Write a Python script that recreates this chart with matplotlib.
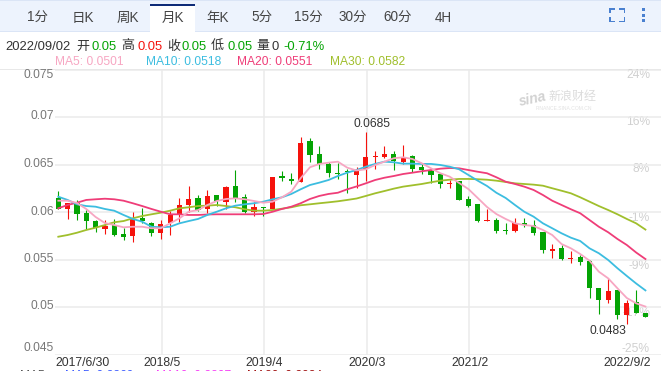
import matplotlib
matplotlib.use("Agg")
import matplotlib.pyplot as plt
from matplotlib.patches import Rectangle

plt.rcParams['font.family'] = ['Liberation Sans', 'Noto Sans CJK SC', 'DejaVu Sans']

PX = 0.72  # 1 px in points at dpi 100

# candles, 2017/6 to 2022/9, monthly
opens = [.06153, .06037, .0610, .05998, .0591, .05826, .05868, .05774, .05753, .05942, .05893, .05784,
         .05893, .05974, .06076, .06153, .06037, .06184, .06111, .06279, .0616, .06008, .06055, .06034,
         .06384, .06353, .06324, .06753, .06616, .06514, .06419, .06437, .06395, .06461, .06587, .06584,
         .06616, .06532, .06595, .06479, .0644, .06405, .06303, .06328, .06142, .06089, .05914, .05921,
         .05816, .05808, .05889, .05868, .05798, .05598, .05626, .05514, .05532, .05493, .05205, .05079,
         .05184, .04924, .05055, .04942]
highs = [.06226, .0610, .06132, .06026, .05921, .05921, .05932, .05837, .06005, .06051, .05903, .05921,
         .06019, .06149, .06279, .06184, .06237, .06184, .06279, .06447, .06192, .06114, .06055, .06374,
         .06437, .06413, .06792, .06784, .0670, .06535, .06524, .06455, .06476, .0685, .0665, .0670,
         .0665, .06711, .06605, .06524, .06468, .06419, .06339, .06328, .06174, .06089, .06037, .05939,
         .05886, .05942, .05939, .05921, .05798, .05668, .05655, .05592, .05556, .0550, .05205, .05307,
         .05184, .05079, .05184, .04942]
lows = [.06037, .05935, .05921, .05829, .05798, .05774, .05756, .05711, .05693, .05886, .05756, .05721,
        .05766, .05903, .06008, .06016, .05992, .06072, .06037, .06114, .05998, .05963, .05963, .06034,
        .06335, .063, .06324, .06535, .06455, .06371, .06356, .06208, .06261, .06335, .06461, .06574,
        .06447, .06511, .06426, .06402, .06314, .06261, .06255, .06132, .06061, .05903, .0591, .05781,
        .05771, .05792, .05851, .05763, .05571, .05524, .05503, .05472, .05447, .05097, .04932, .05051,
        .04879, .0483, .04942, .0490]
closes = [.06037, .0610, .05984, .0591, .05837, .05861, .05763, .05742, .05928, .05907, .05781, .05879,
          .05974, .06079, .06142, .06026, .06174, .06121, .06268, .06149, .06005, .06055, .06047, .06374,
          .0636, .06328, .06732, .06608, .06514, .06419, .06408, .06426, .0644, .06584, .06595, .06616,
          .06545, .06571, .06458, .06447, .06398, .0630, .06311, .06132, .06072, .0591, .05921, .05808,
          .05805, .05889, .05868, .05784, .05605, .05613, .05511, .05521, .05482, .05208, .05079, .05174,
          .04921, .05047, .04942, .0490]

ma5 = [.06124, .06124, .0610, .06037, .05953, .05889, .05868, .05844, .0585, .0585, .05834, .05834,
       .05886, .05939, .06008, .06026, .06079, .06121, .06142, .06149, .06139, .06121, .06103, .06114,
       .0616, .06219, .0636, .06476, .06511, .06524, .06535, .06472, .06442, .06455, .065, .06535,
       .06571, .06581, .06563, .06518, .06465, .06413, .06377, .06311, .06247, .06153, .06058, .05984,
       .05932, .05886, .05868, .05858, .05816, .05763, .05668, .05623, .05563, .05493, .05377, .05307,
       .05202, .0510, .05044, .0501]
ma10 = [.06166, .06132, .06086, .06068, .06061, .06037, .06019, .05974, .05932, .05903, .0585, .05844,
        .0585, .05886, .0591, .05932, .05974, .06008, .06044, .06072, .06086, .06097, .06114, .06139,
        .0616, .06195, .06244, .06289, .06314, .06342, .06384, .06419, .06447, .06482, .06511, .06535,
        .06528, .06514, .06514, .06511, .06511, .065, .06482, .06455, .06395, .06335, .06279, .06208,
        .06153, .06079, .06008, .05956, .05886, .05834, .05781, .05735, .057, .05623, .05571, .055,
        .05413, .05332, .05253, .0518]
ma20 = [.06044, .06079, .06103, .06132, .06139, .06145, .06139, .06124, .06097, .06068, .06037, .06008,
        .05981, .05981, .05974, .05974, .05979, .05981, .05981, .05981, .05981, .05981, .05984, .06008,
        .06037, .06061, .06097, .06142, .06174, .06195, .06208, .06244, .06274, .06307, .06342, .06366,
        .06384, .06405, .06419, .06434, .06447, .06461, .06468, .06465, .06447, .06429, .06413, .06371,
        .06324, .063, .06272, .06237, .06184, .06124, .06079, .06034, .05992, .05921, .0585, .05792,
        .05721, .05658, .05579, .0551]
ma30 = [.05745, .05763, .05787, .05816, .0584, .05868, .05897, .0591, .05939, .05963, .05981, .05998,
        .06019, .06044, .06055, .06068, .06072, .06079, .06068, .06055, .06034, .06019, .06019, .06026,
        .0604, .06055, .06076, .06086, .06097, .06107, .06118, .06132, .06147, .06174, .06202, .06226,
        .06251, .06272, .06286, .063, .06318, .06335, .06345, .06353, .06353, .0635, .06345, .06335,
        .06321, .06307, .063, .06293, .06282, .06255, .06229, .06202, .0616, .06114, .06068, .06026,
        .05981, .05932, .05886, .0582]

y_ticks = [0.045, 0.05, 0.055, 0.06, 0.065, 0.07, 0.075]
y_labels = ['0.045', '0.05', '0.055', '0.06', '0.065', '0.07', '0.075']
pct_labels = ['-25%', '-17%', '-9%', '-1%', '8%', '16%', '24%']
date_ticks = [11.16, 22.1, 33.15, 44.1]
date_labels = ['2018/5', '2019/4', '2020/3', '2021/2']
tabs = ['1分', '日K', '周K', '月K', '年K', '5分', '15分', '30分', '60分', '4H']

RED = '#f5120c'
GREEN = '#04a404'

fig = plt.figure(figsize=(6.61, 3.71), dpi=100)

# page furniture, in pixels of the picture
bg = fig.add_axes([0, 0, 1, 1], zorder=0)
bg.set_xlim(0, 661)
bg.set_ylim(371, 0)
bg.axis('off')

bg.add_patch(Rectangle((0, 0), 661, 32, color='#edf3fd', lw=0))
bg.add_patch(Rectangle((0, 0), 661, 1, color='#dbe5f6', lw=0))
bg.add_patch(Rectangle((0, 31), 661, 1, color='#dbe5f6', lw=0))
bg.add_patch(Rectangle((150, 4), 45, 28, color='white', lw=0))
bg.add_patch(Rectangle((150, 4), 45, 2, color='#0f2c78', lw=0))
bg.add_patch(Rectangle((0, 69), 661, 1, color='#e8e8e8', lw=0))

tab_x = [37, 83, 128, 173, 218, 262, 308, 353, 398, 443]
for name, x in zip(tabs, tab_x):
    bg.text(x, 18, name, fontsize=13.5 * PX, color='#444444', ha='center', va='center')

# fullscreen icon and menu dots
for x, y, w, h in [(609, 8, 6, 1.5), (609, 8, 1.5, 5), (619, 8, 6, 1.5), (623.5, 8, 1.5, 5),
                   (609, 20.5, 6, 1.5), (609, 17, 1.5, 5), (619, 20.5, 6, 1.5), (623.5, 17, 1.5, 5),
                   (642, 8, 3, 3), (642, 14, 3, 3), (642, 19, 3, 3)]:
    bg.add_patch(Rectangle((x, y), w, h, color='#4a80d0', lw=0))

info = [(5, '2022/09/02', '#333333'), (76, '开', '#333333'), (92, '0.05', GREEN), (121, '高', '#333333'),
        (137, '0.05', RED), (167, '收', '#333333'), (182, '0.05', GREEN), (211, '低', '#333333'),
        (227, '0.05', GREEN), (256, '量', '#333333'), (272, '0', '#333333'), (283, '-0.71%', GREEN)]
for x, s, c in info:
    bg.text(x, 46.5, s, fontsize=13 * PX, color=c, ha='left', va='center')

ma_info = [(55, 'MA5: 0.0501', '#f7a6c2'), (146, 'MA10: 0.0518', '#3cbde0'),
           (237, 'MA20: 0.0551', '#ef3d78'), (330, 'MA30: 0.0582', '#a0bf2c')]
for x, s, c in ma_info:
    bg.text(x, 62, s, fontsize=12 * PX, color=c, ha='left', va='center')

# row below the chart, mostly cut off by the picture edge
for x, s, c in [(20, 'MA5', '#555555'), (65, 'MA5: 0.2869', '#3d5cff'),
                (156, 'MA10: 0.2807', '#f53df5'), (247, 'MA20: 0.2934', '#a01010')]:
    bg.text(x, 370, s, fontsize=12 * PX, color=c, ha='left', va='top')

left_y = [348, 306, 259, 212, 164, 116, 75]
for lab, y in zip(y_labels, left_y):
    bg.text(54, y, lab, fontsize=12 * PX, color='#777777', ha='right', va='center')
right_y = [349, 313, 266, 218, 169, 122, 75]
for lab, y in zip(pct_labels, right_y):
    bg.text(650, y, lab, fontsize=12 * PX, color='#d0d0d0', ha='right', va='center')

bg.text(55, 363, '2017/6/30', fontsize=12.3 * PX, color='#333333', ha='left', va='center')
for lab, x in zip(date_labels, [162, 264, 367.5, 470]):
    bg.text(x, 363, lab, fontsize=12.3 * PX, color='#333333', ha='center', va='center')
bg.text(651, 363, '2022/9/2', fontsize=12.3 * PX, color='#333333', ha='right', va='center')

# watermark
bg.text(548, 99, 'sina', fontsize=14 * PX, color='#d2d2d2', ha='right', va='center',
        fontweight='bold', style='italic', rotation=12)
bg.text(572, 97, '新浪财经', fontsize=12 * PX, color='#dcdcdc', ha='center', va='center', style='italic')
bg.text(564, 108, 'FINANCE.SINA.COM.CN', fontsize=5 * PX, color='#e2e2e2', ha='center', va='center')

# chart
ax = fig.add_axes([55 / 661, 1 - 355 / 371, 606 / 661, 285.5 / 371], zorder=1)
ax.patch.set_visible(False)
ax.set_xlim(-0.354, 64.67)
ax.set_ylim(0.045, 0.07505)
for s in ax.spines.values():
    s.set_visible(False)
ax.set_xticks(date_ticks)
ax.set_yticks(y_ticks)
ax.tick_params(length=0, labelbottom=False, labelleft=False)
ax.grid(True, color='#ebebeb', lw=1.5 * PX)
ax.set_axisbelow(True)

for i in range(len(opens)):
    col = RED if closes[i] >= opens[i] else GREEN
    ax.vlines(i, lows[i], highs[i], color=col, lw=1.1 * PX, zorder=2)
    ax.bar(i, max(abs(closes[i] - opens[i]), 0.00011), bottom=min(opens[i], closes[i]),
           width=0.56, color=col, lw=0, zorder=3)

xs = list(range(len(ma5)))
ax.plot(xs, ma30, color='#a0bf2c', lw=1.8 * PX, zorder=4)
ax.plot(xs, ma20, color='#ef3d78', lw=1.8 * PX, zorder=4)
ax.plot(xs, ma10, color='#3cbde0', lw=1.8 * PX, zorder=4)
ax.plot(xs, ma5, color='#f7a6c2', lw=1.8 * PX, zorder=4)

hi_i = highs.index(max(highs))
lo_i = lows.index(min(lows))
ax.annotate(f'{highs[hi_i]:.4f}', xy=(hi_i, highs[hi_i]), xytext=(6 * PX, 7.5 * PX),
            textcoords='offset points', fontsize=12 * PX, color='#333333', ha='center', va='center')
ax.annotate(f'{lows[lo_i]:.4f}', xy=(lo_i, lows[lo_i]), xytext=(-19 * PX, -7 * PX),
            textcoords='offset points', fontsize=12 * PX, color='#333333', ha='center', va='center')

fig.savefig('out.png', dpi=100)
